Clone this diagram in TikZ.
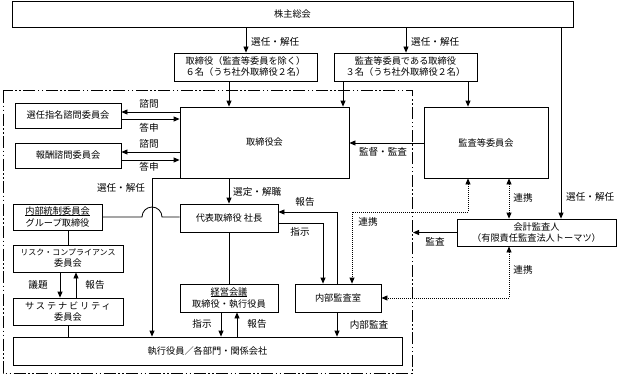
\documentclass[tikz,border=0pt]{standalone}
\usepackage{fontspec}
\setmainfont{Noto Sans CJK JP}
\usetikzlibrary{arrows.meta}
\newcommand{\ulx}[1]{\setbox0\hbox{#1}\rlap{\rule[-1.3pt]{\wd0}{0.5pt}}\box0}
\begin{document}
\begin{tikzpicture}[x=1pt,y=-1pt,
  box/.style={draw,line width=0.8pt,align=center,inner sep=0pt,font=\fontsize{9.2}{11}\selectfont},
  lab/.style={inner sep=0pt,font=\fontsize{9.6}{11}\selectfont},
  ln/.style={line width=0.8pt},
  arr/.style={line width=0.8pt,-{Triangle[length=6pt,width=5pt]}},
  dotarr/.style={line width=0.8pt,dash pattern=on 1pt off 1pt,{Triangle[length=6pt,width=5pt]}-{Triangle[length=6pt,width=5pt]}},
  frame/.style={line width=1pt,dash pattern=on 12pt off 2.5pt on 1.5pt off 2.5pt on 1.5pt off 2.5pt}]
\useasboundingbox (0,0) rectangle (617,377);
% frame
\draw[frame] (3,91) rectangle (412,373);
\coordinate (bnd) at (413,232.5);
% boxes
\node[box,minimum width=561pt,minimum height=25.5pt] (sh) at (292.5,14.25) {株主総会};
\node[box,minimum width=143pt,minimum height=28pt] (d1) at (245.5,67) {取締役（監査等委員を除く）\\６名（うち社外取締役２名）};
\node[box,minimum width=143pt,minimum height=28pt] (d2) at (405.5,67) {監査等委員である取締役\\３名（うち社外取締役２名）};
\node[box,minimum width=169pt,minimum height=71pt] (board) at (264.5,142.5) {取締役会};
\node[box,minimum width=124pt,minimum height=71pt] (ac) at (486,142.5) {監査等委員会};
\node[box,minimum width=106pt,minimum height=25pt] (nom) at (68,115.5) {選任指名諮問委員会};
\node[box,minimum width=106pt,minimum height=25pt] (rem) at (68,155.5) {報酬諮問委員会};
\node[box,minimum width=98pt,minimum height=28pt] (pres) at (229,218) {代表取締役 社長};
\node[box,minimum width=89pt,minimum height=26pt,font=\fontsize{9.2}{12}\selectfont] (ic) at (57.5,217) {\ulx{内部統制委員会}\\グループ取締役};
\node[box,minimum width=110pt,minimum height=27pt] (risk) at (68,258.5) {{\fontsize{8}{11}\selectfont リスク・コンプライアンス}\\委員会};
\node[box,minimum width=110pt,minimum height=27pt] (sus) at (68,311.5) {{\addfontfeature{LetterSpace=20}サステナビリティ}\\委員会};
\node[box,minimum width=98pt,minimum height=28pt,font=\fontsize{9.2}{12}\selectfont] (mgmt) at (229,298) {\ulx{経営会議}\\取締役・執行役員};
\node[box,minimum width=86pt,minimum height=28pt] (ia) at (338,298) {内部監査室};
\node[box,minimum width=389pt,minimum height=28pt] (exec) at (207.5,351) {執行役員／各部門・関係会社};
\node[box,minimum width=159pt,minimum height=27pt] (aud) at (536.5,232.5) {会計監査人\\（有限責任監査法人トーマツ）};
% connectors
\draw[arr] (246,0 |- sh.south) -- (246,0 |- d1.north);
\draw[arr] (406,0 |- sh.south) -- (406,0 |- d2.north);
\draw[arr] (561,0 |- sh.south) -- (561,0 |- aud.north);
\draw[arr] (229,0 |- d1.south) -- (229,0 |- board.north);
\draw[arr] (343,0 |- d2.south) -- (343,0 |- board.north);
\draw[arr] (468,0 |- d2.south) -- (468,0 |- ac.north);
\draw[arr] (ac.west |- 0,143) -- (board.east |- 0,143);
\draw[arr] (board.west |- 0,112) -- (nom.east |- 0,112);
\draw[arr] (nom.east |- 0,119) -- (board.west |- 0,119);
\draw[arr] (board.west |- 0,152) -- (rem.east |- 0,152);
\draw[arr] (rem.east |- 0,160) -- (board.west |- 0,160);
\draw[arr] (board.south west) -| (152,0 |- exec.north);
\draw[arr] (229,0 |- board.south) -- (229,0 |- pres.north);
\draw[ln] (ic.east) -- (142,217) arc[start angle=180,end angle=360,radius=10] -- (pres.west |- 0,217);
\draw[ln] (68,0 |- ic.south) -- (68,0 |- risk.north);
\draw[arr] (60,0 |- risk.south) -- (60,0 |- sus.north);
\draw[arr] (76,0 |- sus.north) -- (76,0 |- risk.south);
\draw[ln] (68,0 |- sus.south) -- (68,0 |- exec.north);
\draw[ln] (229,0 |- pres.south) -- (229,0 |- mgmt.north);
\draw[arr] (221,0 |- mgmt.south) -- (221,0 |- exec.north);
\draw[arr] (237,0 |- exec.north) -- (237,0 |- mgmt.south);
\draw[arr] (337,0 |- ia.north) |- (pres.east |- 0,212);
\draw[arr] (pres.east |- 0,223) -| (323,0 |- ia.north);
\draw[arr] (337,0 |- ia.south) -- (337,0 |- exec.north);
\draw[dotarr] (468,0 |- ac.south) |- (352,212) -- (352,0 |- ia.north);
\draw[dotarr] (509,0 |- ac.south) -- (509,0 |- aud.north);
\draw[dotarr] (509,0 |- aud.south) |- (ia.east);
\draw[arr] (aud.west) -- (bnd);
% labels
\node[lab,anchor=west] (l1) at (251,42) {選任・解任};
\node[lab,anchor=west] (l2) at (411,42) {選任・解任};
\node[lab,anchor=west] (l3) at (566,197) {選任・解任};
\node[lab] (l4) at (383,152) {監督・監査};
\node[lab] (l5) at (149,104) {諮問};
\node[lab] (l6) at (149,128) {答申};
\node[lab] (l7) at (149,144) {諮問};
\node[lab] (l8) at (149,167) {答申};
\node[lab] (l9) at (121,188) {選任・解任};
\node[lab,anchor=west] (l10) at (233,192) {選定・解職};
\node[lab] (l11) at (38,285) {議題};
\node[lab] (l12) at (95,285) {報告};
\node[lab] (l13) at (202,324) {指示};
\node[lab] (l14) at (257,324) {報告};
\node[lab] (l15) at (305,202) {報告};
\node[lab] (l16) at (300,232) {指示};
\node[lab] (l17) at (369,325) {内部監査};
\node[lab] (l18) at (368,222) {連携};
\node[lab] (l19) at (523,198) {連携};
\node[lab] (l20) at (523,270) {連携};
\node[lab] (l21) at (435,242) {監査};
\end{tikzpicture}
\end{document}
